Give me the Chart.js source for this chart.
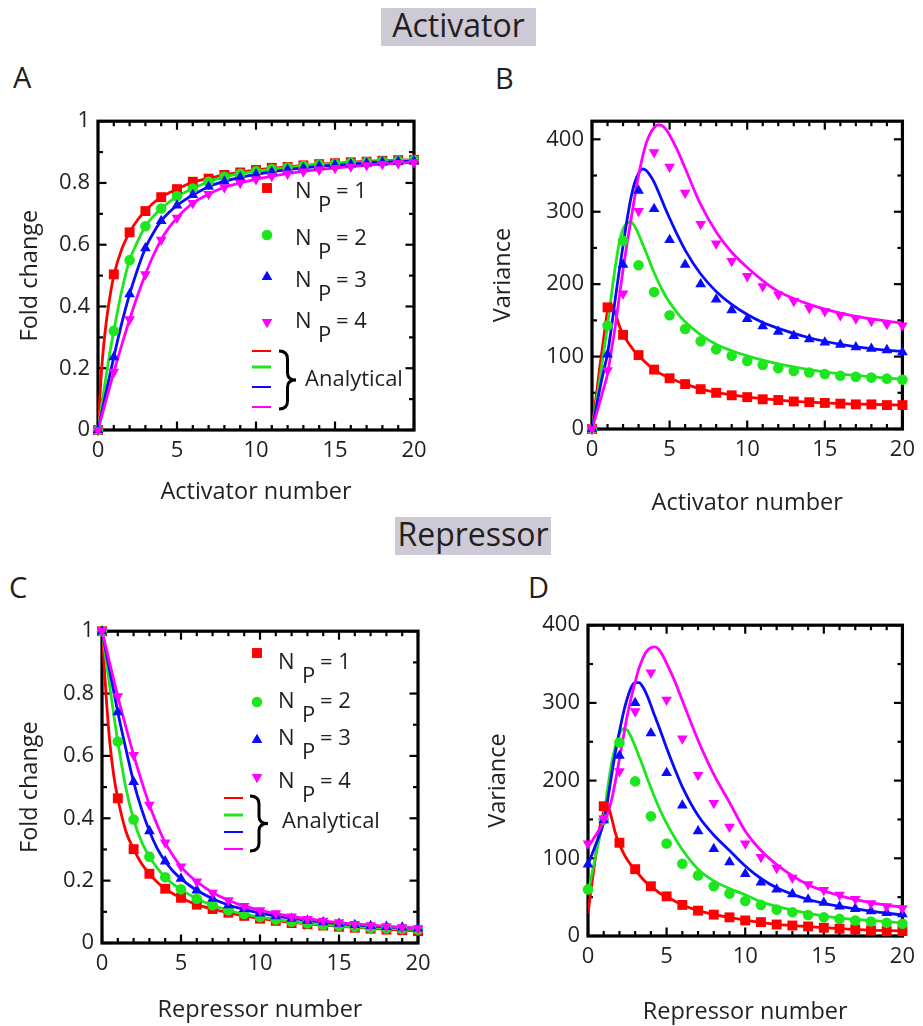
<!DOCTYPE html>
<html>
<head>
<meta charset="utf-8">
<script src="https://cdn.jsdelivr.net/npm/chart.js@4.4.1/dist/chart.umd.min.js"></script>
<style>
  body { margin: 0; background: #fff; }
  #page { position: relative; width: 923px; height: 1026px; font-family: "Open Sans", sans-serif; color: #231f20; overflow: hidden; }
  #page canvas { position: absolute; }
  .head { position: absolute; background: #cdcad6; font-size: 32px; line-height: 34px; text-align: center; }
  .tag { position: absolute; font-size: 29px; line-height: 1; }
</style>
</head>
<body>
<div id="page">
  <div class="head" style="left:381px;top:8px;width:155px;height:38px">Activator</div>
  <div class="head" style="left:395px;top:517px;width:156px;height:38px">Repressor</div>
  <div class="tag" style="left:13px;top:62px">A</div>
  <div class="tag" style="left:495px;top:63px">B</div>
  <div class="tag" style="left:9px;top:572px">C</div>
  <div class="tag" style="left:528px;top:572px">D</div>
  <canvas id="chartA"></canvas>
  <canvas id="chartB"></canvas>
  <canvas id="chartC"></canvas>
  <canvas id="chartD"></canvas>
</div>
<script>
// simulated molecule numbers (markers)
const simX = [0, 1, 2, 3, 4, 5, 6, 7, 8, 9, 10, 11, 12, 13, 14, 15, 16, 17, 18, 19, 20]

// fold change vs activator number
const actFoldNp1 = [0, 0.504, 0.640, 0.709, 0.754, 0.780, 0.804, 0.814, 0.826, 0.834, 0.842, 0.849, 0.852, 0.857, 0.861, 0.864, 0.867, 0.869, 0.872, 0.874, 0.875]
const actFoldNp2 = [0, 0.321, 0.550, 0.660, 0.717, 0.757, 0.782, 0.804, 0.820, 0.830, 0.838, 0.845, 0.850, 0.855, 0.859, 0.862, 0.865, 0.868, 0.870, 0.872, 0.874]
const actFoldNp3 = [0, 0.236, 0.440, 0.589, 0.677, 0.727, 0.761, 0.788, 0.805, 0.818, 0.828, 0.836, 0.843, 0.849, 0.854, 0.858, 0.861, 0.864, 0.867, 0.869, 0.871]
const actFoldNp4 = [0, 0.188, 0.358, 0.504, 0.616, 0.687, 0.735, 0.764, 0.786, 0.800, 0.812, 0.822, 0.830, 0.837, 0.843, 0.848, 0.853, 0.857, 0.861, 0.864, 0.867]

// variance vs activator number
const actVarNp1 = [0, 168, 130, 102, 82, 70, 62, 55, 50, 46.5, 44, 41, 40, 38, 37, 36, 35, 34, 34, 33, 33]
const actVarNp2 = [0, 143, 260, 226, 189, 157, 138, 121, 110, 101, 94, 88.5, 84, 80, 78, 76, 73.5, 72, 71, 69.5, 68]
const actVarNp3 = [0, 103, 227, 329, 304, 261, 227, 200, 179, 164, 152, 142, 134.5, 128.7, 124, 119.6, 116.5, 113, 111, 109, 106]
const actVarNp4 = [0, 81, 187, 301, 382, 362, 326, 283, 256, 232, 211, 197, 185.5, 176.5, 167, 162.5, 157, 152.6, 149, 145, 142.7]

// fold change vs repressor number
const repFoldNp1 = [1, 0.464, 0.301, 0.222, 0.174, 0.145, 0.123, 0.109, 0.097, 0.087, 0.078, 0.071, 0.064, 0.060, 0.056, 0.052, 0.049, 0.046, 0.043, 0.041, 0.038]
const repFoldNp2 = [1, 0.646, 0.396, 0.277, 0.211, 0.172, 0.142, 0.121, 0.105, 0.093, 0.083, 0.075, 0.068, 0.063, 0.058, 0.055, 0.052, 0.049, 0.047, 0.045, 0.043]
const repFoldNp3 = [1, 0.740, 0.517, 0.359, 0.262, 0.206, 0.169, 0.142, 0.121, 0.109, 0.095, 0.086, 0.078, 0.072, 0.067, 0.062, 0.058, 0.055, 0.052, 0.050, 0.047]
const repFoldNp4 = [1, 0.791, 0.603, 0.443, 0.322, 0.245, 0.197, 0.161, 0.137, 0.118, 0.105, 0.095, 0.085, 0.077, 0.071, 0.066, 0.061, 0.057, 0.053, 0.050, 0.047]

// variance vs repressor number
const repVarNp1 = [null, 167, 120, 86, 64, 51, 40, 32.6, 27.5, 24, 20, 17.8, 14.8, 13.5, 12.3, 10.6, 9.3, 8.5, 7.2, 6.3, 6.3]
const repVarNp2 = [60, 150, 249, 199, 154, 119, 93, 78, 64, 54.6, 45, 40, 34, 30.5, 27, 24, 22, 20, 18.6, 17, 15.7]
const repVarNp3 = [92, 149, 232, 300, 261, 210, 168, 135, 112, 95, 80, 69, 60, 54, 47, 43, 38, 35, 32, 29.6, 28]
const repVarNp4 = [119, 151, 212, 289, 339, 304, 254, 207, 171, 140.5, 119, 101.6, 87.6, 75, 66.5, 59, 53, 47.4, 42, 38, 35.6]

// analytical curves
const foldCurveX = [0, 0.25, 0.5, 0.75, 1, 1.5, 2, 2.5, 3, 3.5, 4, 4.5, 5, 5.5, 6, 7, 8, 9, 10, 12, 14, 16, 18, 20]
const actFoldFit1 = [0, 0.21, 0.34, 0.43, 0.50, 0.585, 0.64, 0.68, 0.709, 0.735, 0.754, 0.768, 0.780, 0.792, 0.803, 0.815, 0.826, 0.834, 0.842, 0.852, 0.861, 0.867, 0.872, 0.875]
const actFoldFit2 = [0, 0.085, 0.17, 0.25, 0.321, 0.45, 0.55, 0.61, 0.66, 0.692, 0.717, 0.738, 0.757, 0.770, 0.782, 0.804, 0.820, 0.830, 0.838, 0.850, 0.859, 0.865, 0.870, 0.874]
const actFoldFit3 = [0, 0.06, 0.12, 0.178, 0.236, 0.345, 0.44, 0.52, 0.589, 0.638, 0.677, 0.705, 0.727, 0.745, 0.761, 0.788, 0.805, 0.818, 0.828, 0.843, 0.854, 0.861, 0.867, 0.871]
const actFoldFit4 = [0, 0.047, 0.094, 0.141, 0.188, 0.275, 0.358, 0.435, 0.504, 0.565, 0.616, 0.656, 0.687, 0.713, 0.735, 0.764, 0.786, 0.800, 0.812, 0.830, 0.843, 0.853, 0.861, 0.867]

const repFoldFit1 = [1, 0.80, 0.64, 0.535, 0.464, 0.36, 0.301, 0.255, 0.222, 0.195, 0.174, 0.158, 0.145, 0.133, 0.123, 0.109, 0.097, 0.087, 0.079, 0.066, 0.057, 0.050, 0.044, 0.039]
const repFoldFit2 = [1, 0.91, 0.82, 0.73, 0.646, 0.50, 0.396, 0.325, 0.277, 0.240, 0.211, 0.189, 0.172, 0.156, 0.142, 0.121, 0.105, 0.093, 0.083, 0.069, 0.059, 0.052, 0.047, 0.043]
const repFoldFit3 = [1, 0.935, 0.87, 0.805, 0.740, 0.625, 0.517, 0.430, 0.359, 0.303, 0.262, 0.230, 0.206, 0.186, 0.169, 0.142, 0.122, 0.108, 0.096, 0.079, 0.067, 0.058, 0.052, 0.047]
const repFoldFit4 = [1, 0.948, 0.895, 0.843, 0.791, 0.695, 0.603, 0.520, 0.443, 0.378, 0.322, 0.280, 0.245, 0.218, 0.197, 0.162, 0.137, 0.118, 0.105, 0.085, 0.071, 0.061, 0.053, 0.047]

const varCurveX = [0, 0.25, 0.5, 0.75, 1, 1.25, 1.5, 1.75, 2, 2.25, 2.5, 2.75, 3, 3.25, 3.5, 3.75, 4, 4.25, 4.5, 4.75, 5, 5.5, 6, 7, 8, 9, 10, 11, 12, 14, 16, 18, 20]
const actVarFit1 = [0, 42, 85, 125, 163, 171, 160, 143, 131, 122, 114, 107, 102, 96, 91, 86, 82, 78.5, 75.5, 72.5, 70, 66, 62, 55.5, 50.5, 47, 44, 42, 40, 37, 35, 34, 33]
const actVarFit2 = [0, 33, 68, 105, 143, 185, 224, 256, 276, 284, 286, 280, 269, 256, 243, 229, 216, 204, 193, 183, 175, 160, 148, 130, 117, 108, 101, 95, 90, 82, 76, 72, 69]
const actVarFit3 = [0, 27, 55, 80, 104, 140, 180, 218, 253, 288, 318, 340, 353, 359, 357, 350, 341, 329, 316, 303, 291, 268, 247, 214, 190, 172, 158, 147, 139, 126, 117, 111, 107]
const actVarFit4 = [0, 18, 37, 56, 76, 108, 142, 181, 220, 255, 288, 320, 350, 375, 395, 408, 416, 420, 419, 414, 406, 385, 360, 310, 272, 244, 223, 205, 190, 172, 160, 152, 146]

const repVarFit1 = [29, 68, 105, 140, 160, 167, 152, 132, 118, 107, 98, 91, 86, 79, 73, 68, 64, 60, 56, 53, 51, 45, 40, 33, 27.5, 24, 20.5, 17.5, 15, 12, 9.5, 7.5, 6.5]
const repVarFit2 = [55, 80, 105, 128, 152, 190, 222, 245, 260, 267, 265, 256, 244, 231, 218, 204, 191, 178, 166, 155, 145, 127, 111, 86, 71, 61, 53, 44, 38, 29, 23, 20, 17]
const repVarFit3 = [92, 105, 118, 131, 146, 175, 207, 237, 263, 287, 306, 320, 326, 326, 320, 310, 297, 283, 270, 256, 242, 216, 192, 155, 130, 110, 90, 74, 62, 47, 38, 32, 27]
const repVarFit4 = [115, 122, 130, 138, 146, 158, 175, 200, 228, 256, 284, 307, 327, 345, 358, 367, 371, 372, 369, 361, 351, 329, 303, 252, 208, 172, 135, 110, 92, 66, 52, 43, 37]

// tick values and labels
const numTicks = [0, 5, 10, 15, 20]
const numLabels = ['0', '5', '10', '15', '20']
const foldTicks = [0, 0.2, 0.4, 0.6, 0.8, 1]
const foldLabels = ['0', '0.2', '0.4', '0.6', '0.8', '1']
const varTicks = [0, 100, 200, 300, 400]
const varLabels = ['0', '100', '200', '300', '400']
const npValues = ['1', '2', '3', '4']

const ink = '#231f20'
const colors = ['#ff0000', '#1ee61e', '#0a0aff', '#ff00ff']
const styles = ['rect', 'circle', 'triangle', 'triangle']
const radii = [7, 5.3, 6.2, 6.2]
const rotations = [0, 0, 0, 180]
const tickSize = 22
const titleSize = 23.5

Chart.defaults.font.family = '"Open Sans", sans-serif'
Chart.defaults.color = ink

function toPoints(xs, ys) {
    return xs.map((x, i) => ({ x: x, y: ys[i] }))
}

// small marker shapes, same geometry as Chart.js point styles
function drawMarker(ctx, k, x, y) {
    const r = radii[k]
    ctx.fillStyle = colors[k]
    ctx.beginPath()
    if (styles[k] === 'rect') {
        const s = r * Math.SQRT1_2
        ctx.rect(x - s, y - s, 2 * s, 2 * s)
    } else if (styles[k] === 'circle') {
        ctx.arc(x, y, r, 0, Math.PI * 2)
    } else {
        const dir = rotations[k] === 180 ? -1 : 1
        ctx.moveTo(x, y - dir * r)
        ctx.lineTo(x + r * 0.866, y + dir * r * 0.5)
        ctx.lineTo(x - r * 0.866, y + dir * r * 0.5)
        ctx.closePath()
    }
    ctx.fill()
}

// thick box with inward ticks on all four sides
const framePlugin = {
    id: 'frame',
    beforeDatasetsDraw(chart, args, opts) {
        const { ctx, chartArea: a, scales: { x, y } } = chart
        ctx.save()
        ctx.strokeStyle = '#000'
        ctx.lineWidth = 2.2
        const seg = (x1, y1, x2, y2) => { ctx.beginPath(); ctx.moveTo(x1, y1); ctx.lineTo(x2, y2); ctx.stroke() }
        const major = (v, step) => Math.abs(v / step - Math.round(v / step)) < 1e-6
        for (let i = 0; x.min + i * opts.xMinor <= x.max + 1e-9; i++) {
            const v = x.min + i * opts.xMinor
            const px = x.getPixelForValue(v)
            const len = major(v, opts.xMajor) ? 8.5 : 5
            seg(px, a.bottom, px, a.bottom - len)
            seg(px, a.top, px, a.top + len)
        }
        for (let i = 0; y.min + i * opts.yMinor <= y.max + 1e-9; i++) {
            const v = y.min + i * opts.yMinor
            const py = y.getPixelForValue(v)
            const len = major(v, opts.yMajor) ? 8.5 : 5
            seg(a.left, py, a.left + len, py)
            seg(a.right, py, a.right - len, py)
        }
        ctx.lineWidth = 3.2
        ctx.strokeRect(a.left, a.top, a.right - a.left, a.bottom - a.top)
        ctx.restore()
    }
}

// N_P legend with the "Analytical" brace, drawn in page coordinates
function npLegend(p, lg) {
    return {
        id: 'npLegend',
        afterDraw(chart) {
            const ctx = chart.ctx
            ctx.save()
            ctx.translate(-p.left, -p.top)
            ctx.textBaseline = 'alphabetic'
            ctx.font = '22px "Open Sans", sans-serif'
            npValues.forEach((n, k) => {
                drawMarker(ctx, k, lg.mx, lg.my[k])
                ctx.fillStyle = ink
                ctx.fillText('N', lg.nx, lg.base[k])
                ctx.fillText('P', lg.px, lg.base[k] + 13.5)
                ctx.fillText('= ' + n, lg.ex, lg.base[k])
            })
            lg.ly.forEach((ly, k) => {
                ctx.strokeStyle = colors[k]
                ctx.lineWidth = k === 1 ? 3 : 2
                ctx.beginPath()
                ctx.moveTo(lg.lx[0], ly)
                ctx.lineTo(lg.lx[1], ly)
                ctx.stroke()
            })
            const [bx0, bx1] = lg.bx
            const [by0, by1] = lg.by
            const mid = (by0 + by1) / 2
            const bxm = (bx0 + bx1) / 2
            ctx.strokeStyle = '#000'
            ctx.lineWidth = 3
            ctx.beginPath()
            ctx.moveTo(bx0, by0)
            ctx.quadraticCurveTo(bxm, by0, bxm, by0 + 8)
            ctx.lineTo(bxm, mid - 7)
            ctx.quadraticCurveTo(bxm, mid, bx1, mid)
            ctx.quadraticCurveTo(bxm, mid, bxm, mid + 7)
            ctx.lineTo(bxm, by1 - 8)
            ctx.quadraticCurveTo(bxm, by1, bx0, by1)
            ctx.stroke()
            ctx.fillStyle = ink
            ctx.fillText('Analytical', lg.ax, lg.ay)
            ctx.restore()
        }
    }
}

function makeChart(p) {
    const canvas = document.getElementById(p.id)
    canvas.width = p.width
    canvas.height = p.height
    canvas.style.left = p.left + 'px'
    canvas.style.top = p.top + 'px'
    const [bl, bt, br, bb] = p.box
    const half = titleSize * 1.2 / 2

    const datasets = []
    p.fits.forEach((ys, k) => {
        datasets.push({
            data: toPoints(p.fitX, ys),
            borderColor: colors[k],
            borderWidth: 2.8,
            pointRadius: 0,
            cubicInterpolationMode: 'monotone',
            fill: false
        })
    })
    p.sims.forEach((ys, k) => {
        datasets.push({
            data: toPoints(simX, ys),
            showLine: false,
            pointStyle: styles[k],
            pointRadius: radii[k],
            pointRotation: rotations[k],
            pointBackgroundColor: colors[k],
            pointBorderColor: colors[k],
            pointBorderWidth: 0,
            clip: false
        })
    })
    // draw magenta above blue above green above red
    datasets.reverse()

    const plugins = [framePlugin]
    if (p.legend) plugins.push(npLegend(p, p.legend))

    return new Chart(canvas, {
        type: 'line',
        data: { datasets: datasets },
        plugins: plugins,
        options: {
            responsive: false,
            animation: false,
            events: [],
            layout: { padding: { left: 0, top: bt - p.top, right: p.left + p.width - br, bottom: 0 } },
            plugins: {
                legend: { display: false },
                tooltip: { enabled: false },
                frame: p.frame
            },
            scales: {
                x: {
                    type: 'linear',
                    min: 0,
                    max: 20,
                    grid: { display: false, drawTicks: false },
                    border: { display: false },
                    ticks: { padding: 8, font: { size: tickSize }, color: ink, callback: (v, i) => numLabels[i] },
                    afterBuildTicks: s => { s.ticks = numTicks.map(v => ({ value: v })) },
                    afterFit: s => { s.height = p.top + p.height - bb },
                    title: {
                        display: true, text: p.xTitle, color: ink, font: { size: titleSize },
                        padding: { top: 0, bottom: Math.max(0, p.top + p.height - p.xTitleY - half) }
                    }
                },
                y: {
                    type: 'linear',
                    min: 0,
                    max: p.yMax,
                    grid: { display: false, drawTicks: false },
                    border: { display: false },
                    ticks: { padding: 8, font: { size: tickSize }, color: ink, callback: (v, i) => p.yLabels[i] },
                    afterBuildTicks: s => { s.ticks = p.yTicks.map(v => ({ value: v })) },
                    afterFit: s => { s.width = bl - p.left },
                    title: {
                        display: true, text: p.yTitle, color: ink, font: { size: titleSize },
                        padding: { top: p.yTitleX - p.left - half, bottom: 0 }
                    }
                }
            }
        }
    })
}

makeChart({
    id: 'chartA', left: 0, top: 100, width: 440, height: 420, box: [98, 116, 414, 430],
    xTitle: 'Activator number', xTitleY: 492, yTitle: 'Fold change', yTitleX: 30,
    yMax: 1, yTicks: foldTicks, yLabels: foldLabels,
    frame: { xMinor: 1, xMajor: 5, yMinor: 0.1, yMajor: 0.2 },
    fitX: foldCurveX, fits: [actFoldFit1, actFoldFit2, actFoldFit3, actFoldFit4],
    sims: [actFoldNp1, actFoldNp2, actFoldNp3, actFoldNp4],
    legend: {
        mx: 267, my: [188, 235, 277, 322], base: [198, 245, 287, 328],
        nx: 295, px: 318, ex: 336,
        lx: [252, 271], ly: [351, 367, 387, 407],
        bx: [279, 296], by: [351, 409], ax: 305, ay: 386
    }
})

makeChart({
    id: 'chartB', left: 460, top: 100, width: 463, height: 420, box: [592, 116, 909, 429],
    xTitle: 'Activator number', xTitleY: 503, yTitle: 'Variance', yTitleX: 503,
    yMax: 425, yTicks: varTicks, yLabels: varLabels,
    frame: { xMinor: 1, xMajor: 5, yMinor: 50, yMajor: 100 },
    fitX: varCurveX, fits: [actVarFit1, actVarFit2, actVarFit3, actVarFit4],
    sims: [actVarNp1, actVarNp2, actVarNp3, actVarNp4]
})

makeChart({
    id: 'chartC', left: 0, top: 610, width: 440, height: 416, box: [102, 627, 418, 943],
    xTitle: 'Repressor number', xTitleY: 1010, yTitle: 'Fold change', yTitleX: 30,
    yMax: 1, yTicks: foldTicks, yLabels: foldLabels,
    frame: { xMinor: 1, xMajor: 5, yMinor: 0.1, yMajor: 0.2 },
    fitX: foldCurveX, fits: [repFoldFit1, repFoldFit2, repFoldFit3, repFoldFit4],
    sims: [repFoldNp1, repFoldNp2, repFoldNp3, repFoldNp4],
    legend: {
        mx: 257, my: [653, 702, 740, 777], base: [669, 708, 745, 788],
        nx: 278, px: 302, ex: 320,
        lx: [224, 243], ly: [798, 815, 832, 849],
        bx: [250, 268], by: [796, 851], ax: 282, ay: 828
    }
})

makeChart({
    id: 'chartD', left: 460, top: 604, width: 463, height: 422, box: [588, 621, 905, 936],
    xTitle: 'Repressor number', xTitleY: 1013, yTitle: 'Variance', yTitleX: 498,
    yMax: 400, yTicks: varTicks, yLabels: varLabels,
    frame: { xMinor: 1, xMajor: 5, yMinor: 50, yMajor: 100 },
    fitX: varCurveX, fits: [repVarFit1, repVarFit2, repVarFit3, repVarFit4],
    sims: [repVarNp1, repVarNp2, repVarNp3, repVarNp4]
})
</script>
</body>
</html>
